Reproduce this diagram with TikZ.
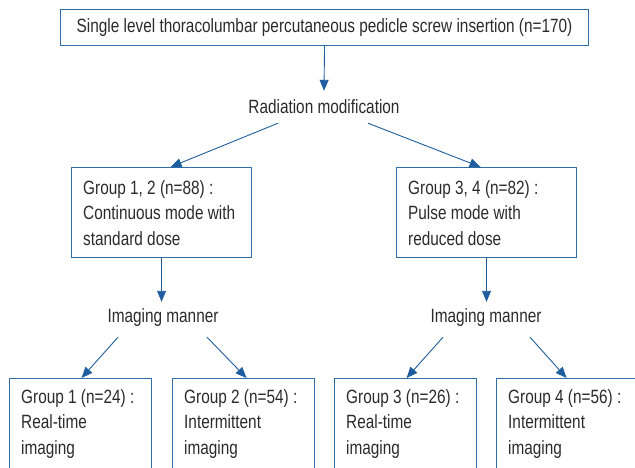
\documentclass[tikz,border=0pt]{standalone}
\usepackage{fontspec}
\setmainfont[FakeStretch=0.8]{Liberation Sans}
\usetikzlibrary{arrows.meta}
\definecolor{boxblue}{HTML}{2E6DA8}
\definecolor{arrblue}{HTML}{1F5E9E}
\definecolor{txt}{HTML}{2B2B2B}
\begin{document}
\begin{tikzpicture}[x=1pt,y=-1pt,
  every node/.style={text=txt,font=\fontsize{19.2}{25.5}\selectfont},
  box/.style={draw=boxblue,line width=1.1pt,inner sep=0pt,anchor=north west},
  lbl/.style={inner sep=0pt,minimum height=34pt},
  conn/.style={draw=arrblue,line width=0.9pt,-{Triangle[width=9pt,length=11pt]}}]
\useasboundingbox (0,0) rectangle (635,468);
\clip (0,0) rectangle (635,468);
\node[box,minimum width=528pt,minimum height=36pt] (top) at (60,9)
  {Single level thoracolumbar percutaneous pedicle screw insertion (n=170)};
\node[lbl] (rad) at (324,107) {Radiation modification};
\node[box,minimum width=180pt,minimum height=90pt] (g12) at (71,167) {};
\node[anchor=west,align=left,inner sep=0pt] (g12t) at (83,213)
  {Group 1, 2 (n=88) :\\Continuous mode with\\standard dose};
\node[box,minimum width=180pt,minimum height=90pt] (g34) at (396,167) {};
\node[anchor=west,align=left,inner sep=0pt] (g34t) at (408,213)
  {Group 3, 4 (n=82) :\\Pulse mode with\\reduced dose};
\node[lbl] (im1) at (163,318) {Imaging manner};
\node[lbl] (im2) at (486,318) {Imaging manner};
\node[box,minimum width=142pt,minimum height=91pt] (g1) at (9,378) {};
\node[box,minimum width=142pt,minimum height=91pt] (g2) at (172,378) {};
\node[box,minimum width=142pt,minimum height=91pt] (g3) at (334,378) {};
\node[box,minimum width=142pt,minimum height=91pt] (g4) at (496,378) {};
\node[anchor=west,align=left,inner sep=0pt] (g1t) at (21,424) {Group 1 (n=24) :\\Real-time\\imaging};
\node[anchor=west,align=left,inner sep=0pt] (g2t) at (184,424) {Group 2 (n=54) :\\Intermittent\\imaging};
\node[anchor=west,align=left,inner sep=0pt] (g3t) at (346,424) {Group 3 (n=26) :\\Real-time\\imaging};
\node[anchor=west,align=left,inner sep=0pt] (g4t) at (508,424) {Group 4 (n=56) :\\Intermittent\\imaging};
\draw[conn] (top.south) -- ([yshift=-1]rad.north);
\draw[conn] ([xshift=-46,yshift=1]rad.south) -- ([xshift=9]g12.north);
\draw[conn] ([xshift=44,yshift=1]rad.south) -- ([xshift=-6]g34.north);
\draw[conn] (g12.south) -- ([yshift=-1]im1.north -| g12.south);
\draw[conn] (g34.south) -- ([yshift=-1]im2.north -| g34.south);
\draw[conn] ([xshift=-45,yshift=-2]im1.south) -- ([xshift=1]g1.north);
\draw[conn] ([xshift=44,yshift=-2]im1.south) -- ([xshift=3]g2.north);
\draw[conn] ([xshift=-43,yshift=-2]im2.south) -- ([xshift=1]g3.north);
\draw[conn] ([xshift=44,yshift=-2]im2.south) -- ([xshift=-1]g4.north);
\end{tikzpicture}
\end{document}
